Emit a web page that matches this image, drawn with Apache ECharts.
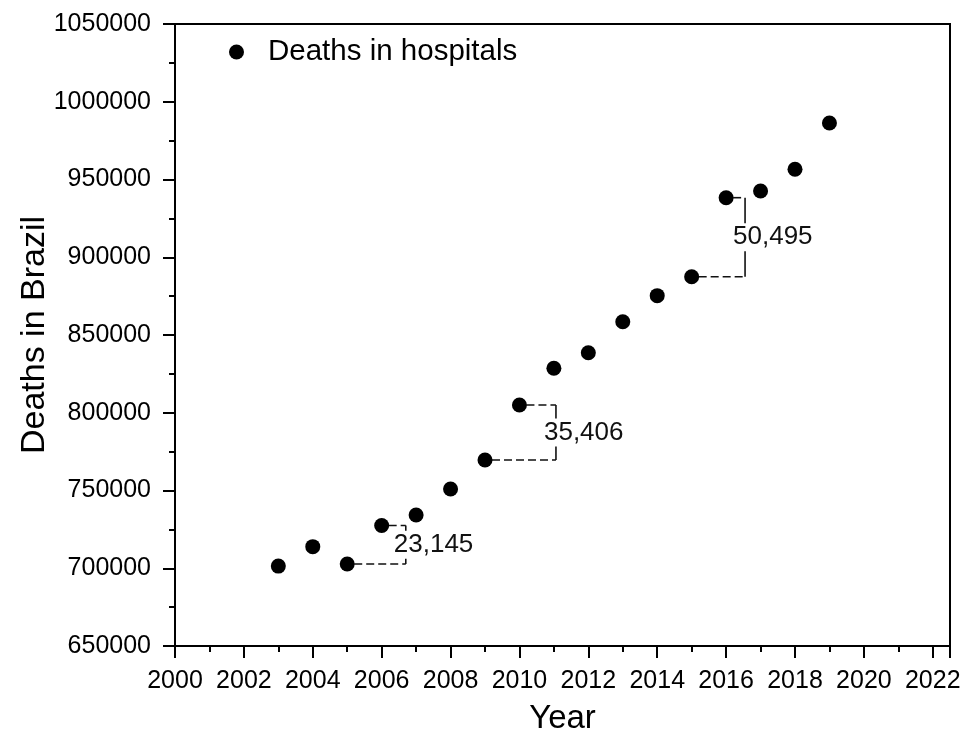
<!DOCTYPE html>
<html>
<head>
<meta charset="utf-8">
<script src="https://cdn.jsdelivr.net/npm/echarts@6/dist/echarts.min.js"></script>
<style>html,body{margin:0;padding:0;background:#fff;}#c{width:964px;height:740px;}</style>
</head>
<body>
<div id="c"></div>
<script>
// ---- data ----
const years = [2003, 2004, 2005, 2006, 2007, 2008, 2009, 2010, 2011, 2012, 2013, 2014, 2015, 2016, 2017, 2018, 2019];
const deaths = [701400, 713900, 702700, 727500, 734200, 751000, 769600, 805000, 828600, 838600, 858500, 875300, 887500, 938300, 942600, 956600, 986300];
const xTicks = [2000, 2002, 2004, 2006, 2008, 2010, 2012, 2014, 2016, 2018, 2020, 2022];
const yTicks = [650000, 700000, 750000, 800000, 850000, 900000, 950000, 1000000, 1050000];
const seriesName = 'Deaths in hospitals';
// annotation brackets: between two years, bracket drawn at year position "at"
const annFrom = [2005, 2009, 2015];
const annTo = [2006, 2010, 2016];
const annAt = [2006.7, 2011.06, 2016.55];
const annLabel = ['23,145', '35,406', '50,495'];

const FONT = 'Liberation Sans, Arial, Helvetica, sans-serif';
const valOf = y => deaths[years.indexOf(y)];

const annData = annFrom.map((f, i) => [annAt[i], valOf(f), valOf(annTo[i]), f, annTo[i]]);

const chart = echarts.init(document.getElementById('c'), null, {renderer: 'canvas'});
chart.setOption({
  animation: false,
  backgroundColor: '#fff',
  grid: {left: 175, right: 14, top: 24, bottom: 94, show: true, borderColor: '#000', borderWidth: 2, backgroundColor: 'transparent'},
  legend: {
    data: [seriesName],
    left: 224, top: 32,
    icon: 'circle', itemWidth: 15, itemHeight: 15,
    itemStyle: {color: '#000', opacity: 1},
    textStyle: {fontFamily: FONT, fontSize: 29.5, color: '#000', padding: [0, 0, 0, 19]}
  },
  xAxis: {
    type: 'value', min: xTicks[0], max: 2022.5, interval: 2,
    name: 'Year', nameLocation: 'middle', nameGap: 56,
    nameTextStyle: {fontFamily: FONT, fontSize: 33, color: '#000'},
    axisLine: {show: true, onZero: false, lineStyle: {color: '#000', width: 2}},
    axisTick: {show: true, inside: false, length: 12, lineStyle: {color: '#000', width: 2}},
    minorTick: {show: true, splitNumber: 2, length: 6, lineStyle: {color: '#000', width: 2}},
    splitLine: {show: false},
    axisLabel: {fontFamily: FONT, fontSize: 25, color: '#000', margin: 23, showMaxLabel: false,
      formatter: v => xTicks.indexOf(v) >= 0 ? String(v) : ''}
  },
  yAxis: {
    type: 'value', min: yTicks[0], max: yTicks[yTicks.length - 1], interval: 50000,
    name: 'Deaths in Brazil', nameLocation: 'middle', nameGap: 123, nameMoveOverlap: false,
    nameTextStyle: {fontFamily: FONT, fontSize: 34, color: '#000'},
    axisLine: {show: true, onZero: false, lineStyle: {color: '#000', width: 2}},
    axisTick: {show: true, inside: false, length: 12, lineStyle: {color: '#000', width: 2}},
    minorTick: {show: true, splitNumber: 2, length: 6, lineStyle: {color: '#000', width: 2}},
    splitLine: {show: false},
    axisLabel: {fontFamily: FONT, fontSize: 25, color: '#000', margin: 24,
      formatter: v => yTicks.indexOf(v) >= 0 ? String(v) : ''}
  },
  series: [
    {
      name: seriesName, type: 'scatter', symbol: 'circle', symbolSize: 15,
      itemStyle: {color: '#000', opacity: 1},
      data: years.map((y, i) => [y, deaths[i]]),
      z: 5
    },
    {
      name: 'annotations', type: 'custom', clip: false, silent: true, z: 3,
      encode: {x: [0, 3, 4], y: [1, 2]},
      data: annData,
      renderItem: function (params, api) {
        const bx = api.value(0), v1 = api.value(1), v2 = api.value(2), x1 = api.value(3), x2 = api.value(4);
        const pLow = api.coord([x1, v1]);
        const pHigh = api.coord([x2, v2]);
        const bLow = api.coord([bx, v1]);
        const bHigh = api.coord([bx, v2]);
        const midY = (bLow[1] + bHigh[1]) / 2;
        const dash = {stroke: '#111', lineWidth: 1.6, lineDash: [8, 4]};
        return {
          type: 'group',
          children: [
            {type: 'line', shape: {x1: pLow[0] + 7, y1: pLow[1], x2: bLow[0], y2: bLow[1]}, style: dash},
            {type: 'line', shape: {x1: pHigh[0] + 7, y1: pHigh[1], x2: bHigh[0], y2: bHigh[1]}, style: dash},
            {type: 'line', shape: {x1: bLow[0], y1: bLow[1], x2: bHigh[0], y2: bHigh[1]}, style: {stroke: '#111', lineWidth: 1.6}},
            {type: 'text', x: bLow[0] - 13, y: midY,
              style: {text: annLabel[params.dataIndex], fontFamily: FONT, fontSize: 26, fill: '#111',
                align: 'left', verticalAlign: 'middle', backgroundColor: '#fff', lineHeight: 28, padding: [0, 1, 0, 1]}}
          ]
        };
      }
    }
  ]
});
</script>
</body>
</html>
